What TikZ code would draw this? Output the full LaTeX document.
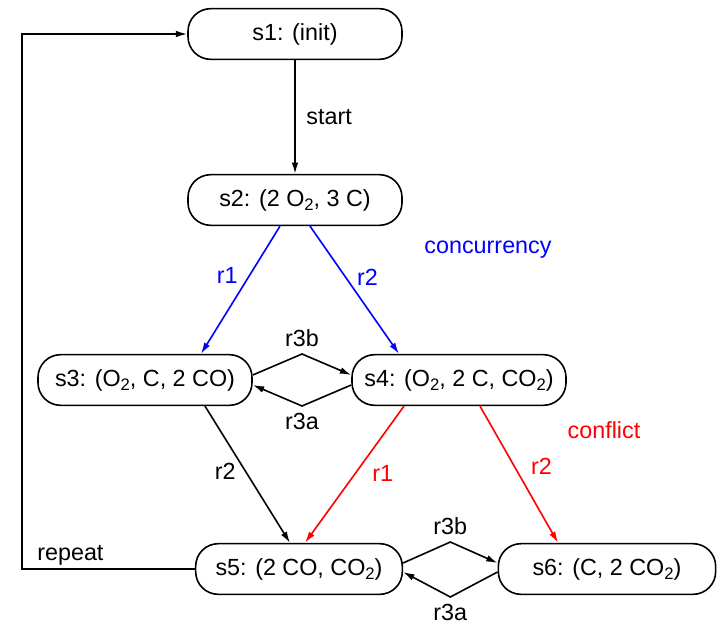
\documentclass[tikz,border=0pt]{standalone}
\usepackage{fontspec}
\setmainfont{Liberation Sans}
\usetikzlibrary{arrows.meta,calc}
\definecolor{ink}{HTML}{000000}
\definecolor{conc}{HTML}{0000FF}
\definecolor{confl}{HTML}{FF0000}
\newcommand{\low}[1]{\raisebox{-0.35ex}{\fontsize{12.5}{13}\selectfont #1}}
\tikzset{
  state/.style={draw=ink,line width=1.2pt,rounded corners=17pt,minimum width=160.5pt,minimum height=38pt,inner sep=2pt,font=\fontsize{17.5}{20}\selectfont},
  lbl/.style={font=\fontsize{17.5}{20}\selectfont,text=ink,inner sep=2pt},
  lblb/.style={lbl,text=conc},
  lblr/.style={lbl,text=confl},
  ar/.style={-{Latex[length=8.5pt,width=5pt]},draw=ink,line width=1.2pt},
  arb/.style={ar,draw=conc,fill=conc},
  arr/.style={ar,draw=confl,fill=confl},
  twin/.style={ar,line join=miter},
}

\begin{document}
\begin{tikzpicture}[x=0.75pt,y=-0.75pt]
\useasboundingbox (0,0) rectangle (717,624);
\node[state] (s1) at (295,34) {s1: (init)};
\node[state] (s2) at (295,200) {s2: (2 O\low{2}, 3 C)};
\node[state] (s3) at (145,380) {s3: (O\low{2}, C, 2 CO)};
\node[state] (s4) at (459,380) {s4: (O\low{2}, 2 C, CO\low{2})};
\node[state,minimum width=155pt] (s5) at (299,569) {s5: (2 CO, CO\low{2})};
\node[state,minimum width=163pt] (s6) at (607,569) {s6: (C, 2 CO\low{2})};
\coordinate (lp) at (22,300);
\draw[ar] (s1) -- node[lbl,right=6pt]{start} (s2);
\draw[arb] ($(s2.south)+(-15,0)$) -- node[lblb,left,pos=0.39,xshift=-6pt]{r1} ($(s3.north)+(56,0)$);
\draw[arb] ($(s2.south)+(15,0)$) -- node[lblb,right,pos=0.4,xshift=6pt]{r2} ($(s4.north)+(-60,0)$);
\draw[twin] ($(s3.east)+(0,-5)$) -- ($(s3.east)!0.5!(s4.west)+(0,-26)$) node[lbl,above=3pt]{r3b} -- ($(s4.west)+(0,-5)$);
\draw[twin] ($(s4.west)+(0,5)$) -- ($(s3.east)!0.5!(s4.west)+(0,26)$) node[lbl,below=3pt]{r3a} -- ($(s3.east)+(0,5)$);
\draw[ar] ($(s3.south)+(60,0)$) -- node[lbl,left,pos=0.48,xshift=-5pt]{r2} ($(s5.north)+(-9,0)$);
\draw[arr] ($(s4.south)+(-55,0)$) -- node[lblr,right,pos=0.49,xshift=10pt]{r1} ($(s5.north)+(6,0)$);
\draw[arr] ($(s4.south)+(21,0)$) -- node[lblr,right,pos=0.44,xshift=10pt]{r2} ($(s6.north)+(-49,0)$);
\draw[twin] ($(s5.east)+(0,-6)$) -- ($(s5.east)!0.5!(s6.west)+(0,-27)$) node[lbl,above=3pt]{r3b} -- ($(s6.west)+(0,-6)$);
\draw[twin] ($(s6.west)+(0,3)$) -- ($(s5.east)!0.5!(s6.west)+(0,28)$) node[lbl,below=3pt]{r3a} -- ($(s5.east)+(0,3)$);
\draw[ar] (s5.west) -- node[lbl,above,pos=0.72]{repeat} (s5.west -| lp) |- (s1.west);
\node[lblb] (conc) at (488,250) {concurrency};
\node[lblr] (confl) at (604,430) {conflict};
\end{tikzpicture}
\end{document}
